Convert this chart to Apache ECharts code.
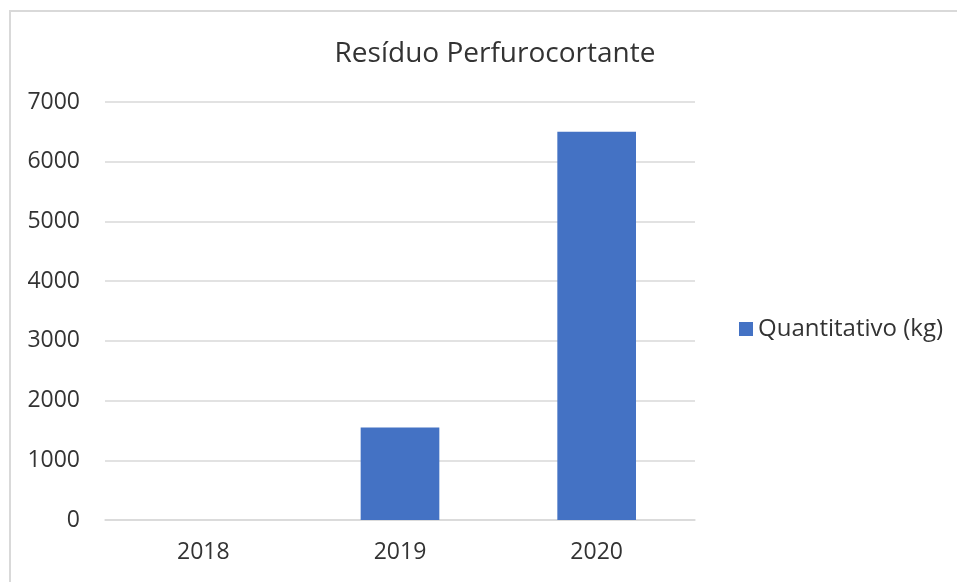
<!DOCTYPE html>
<html>
<head>
<meta charset="utf-8">
<script src="https://cdn.jsdelivr.net/npm/echarts@6/dist/echarts.min.js"></script>
<style>
  html, body { margin: 0; padding: 0; background: #ffffff; overflow: hidden; }
  #frame {
    position: absolute; left: 9px; top: 10px;
    width: 1000px; height: 640px;
    border-left: 2px solid #d9d9d9; border-top: 2px solid #d9d9d9;
  }
  #chart { position: absolute; left: 0; top: 0; width: 957px; height: 582px; }
</style>
</head>
<body>
<div id="frame"></div>
<div id="chart"></div>
<script>
const years = ['2018', '2019', '2020'];
const quantitativo = [0, 1550, 6500];
const seriesName = 'Quantitativo (kg)';

const textColor = '#333333';
const fontFamily = 'Open Sans, Noto Sans, sans-serif';

let myChart = echarts.init(document.getElementById('chart'));
let option = {
  backgroundColor: 'transparent',
  animation: false,
  title: {
    text: 'Resíduo Perfurocortante',
    left: 490,
    top: 35,
    textAlign: 'center',
    textStyle: { color: textColor, fontSize: 28, fontWeight: 'normal', fontFamily: fontFamily }
  },
  legend: {
    data: [seriesName],
    left: 734,
    top: 312,
    itemWidth: 14,
    itemHeight: 14,
    itemGap: 7,
    icon: 'rect',
    textStyle: { color: textColor, fontSize: 24, fontFamily: fontFamily }
  },
  grid: { left: 105, right: 262, top: 102, bottom: 62, containLabel: false },
  xAxis: {
    type: 'category',
    data: years,
    axisLine: { show: true, lineStyle: { color: '#d9d9d9', width: 1.5 } },
    axisTick: { show: false },
    axisLabel: { color: textColor, fontSize: 23, margin: 21, fontFamily: fontFamily }
  },
  yAxis: {
    type: 'value',
    min: 0,
    max: 7000,
    interval: 1000,
    axisLine: { show: false },
    axisTick: { show: false },
    splitLine: { lineStyle: { color: '#d9d9d9', width: 1.5 } },
    axisLabel: {
      color: textColor, fontSize: 23, margin: 25, fontFamily: fontFamily,
      formatter: function (v) { return String(v); }
    }
  },
  series: [{
    name: seriesName,
    type: 'bar',
    barWidth: '40%',
    itemStyle: { color: '#4472c4' },
    data: quantitativo
  }]
};
myChart.setOption(option);
</script>
</body>
</html>
